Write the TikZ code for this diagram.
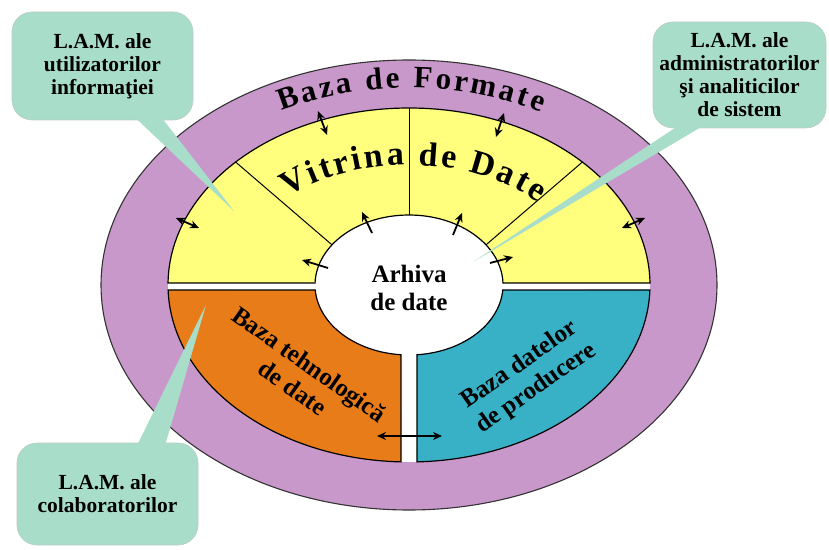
\documentclass[tikz,border=0pt]{standalone}
\usepackage{fontspec}
\setmainfont{Liberation Serif}
\usetikzlibrary{arrows.meta,calc,decorations.text}

\definecolor{formate}{RGB}{201,152,202}
\definecolor{vitrina}{RGB}{255,255,125}
\definecolor{tehno}{RGB}{231,124,24}
\definecolor{productie}{RGB}{56,176,198}
\definecolor{lam}{RGB}{168,221,202}

\newcommand\arcfont{\bfseries\fontsize{31}{34}\selectfont}
\newcommand\vitfont{\bfseries\fontsize{34}{36}\selectfont}
\newcommand\lamfont{\bfseries\fontsize{21.5}{23}\selectfont}
\newcommand\partfont{\bfseries\fontsize{25}{29}\selectfont}
\newcommand\arhfont{\bfseries\fontsize{25}{28}\selectfont}

\tikzset{
  rim/.style={draw=black!80, line width=1.1pt},
  parte/.style={draw=black, line width=1.2pt},
  sep/.style={draw=black, line width=1pt},
  dblarrow/.style={{Stealth[length=9pt,width=8pt]}-{Stealth[length=9pt,width=8pt]}, line width=1.8pt},
  outarrow/.style={-{Stealth[length=9pt,width=8pt]}, line width=1.8pt},
  callout/.style={fill=lam, draw=lam!70!black!50, line width=0.6pt, rounded corners=20pt,
    align=center, font=\lamfont, inner sep=0pt},
  tail/.style={fill=lam}
}

\begin{document}
\begin{tikzpicture}[x=1pt,y=1pt]
\useasboundingbox (0,0) rectangle (829,549);
\fill[white] (0,0) rectangle (829,549);

\coordinate (C) at (409,264);

% inelul exterior
\draw[rim, fill=formate] (C) ellipse [x radius=308pt, y radius=225pt];
\fill[white] (C) ellipse [x radius=241pt, y radius=177pt];

% vitrina de date
\draw[parte, fill=vitrina] ($(C)+(0.65:241pt and 177pt)$)
  arc[start angle=0.65, end angle=179.35, x radius=241pt, y radius=177pt]
  -- ($(C)+(178.36:94pt and 70pt)$)
  arc[start angle=178.36, end angle=1.64, x radius=94pt, y radius=70pt] -- cycle;

% baza tehnologica
\draw[parte, fill=tehno] ($(C)+(181.62:241pt and 177pt)$)
  arc[start angle=181.62, end angle=268.1, x radius=241pt, y radius=177pt]
  -- ($(C)+(265.1:94pt and 70pt)$)
  arc[start angle=265.1, end angle=184.1, x radius=94pt, y radius=70pt] -- cycle;

% baza datelor de producere
\draw[parte, fill=productie] ($(C)+(271.9:241pt and 177pt)$)
  arc[start angle=271.9, end angle=358.38, x radius=241pt, y radius=177pt]
  -- ($(C)+(355.9:94pt and 70pt)$)
  arc[start angle=355.9, end angle=274.9, x radius=94pt, y radius=70pt] -- cycle;

\foreach \u/\v in {136/145, 90/90, 44/35}
  \draw[sep] ($(C)+(\u:241pt and 177pt)$) -- ($(C)+(\v:94pt and 70pt)$);

% texte curbate
\path[decorate, decoration={text along path, text align=fit to path,
    text={|\arcfont|Baza de Formate}}]
  ($(C)+(118:272pt and 197pt)$)
  arc[start angle=118, end angle=61, x radius=272pt, y radius=197pt];
\path[decorate, decoration={text along path, text align=fit to path,
    text={|\vitfont|Vitrina de Date}}]
  ($(C)+(133:178pt and 120pt)$)
  arc[start angle=133, end angle=43.5, x radius=178pt, y radius=120pt];

\node[font=\partfont, rotate=-35, align=center] (tehnologica) at (301,173) {Baza tehnologică\\de date};
\node[font=\partfont, rotate=35, align=center] (producere) at (528,172) {Baza datelor\\de producere};
\node[font=\arhfont, align=center] (arhiva) at (409,261) {Arhiva\\de date};

% sageti
\foreach \a/\b [count=\i] in {{318,438}/{327,414}, {504,436}/{496,412},
    {176,331}/{199,321}, {645,331}/{622,321}, {377,113}/{442,113}} {
  \coordinate (d\i a) at (\a);
  \coordinate (d\i b) at (\b);
  \draw[dblarrow] (d\i a) -- (d\i b);
}
\foreach \a/\b [count=\i] in {{328,281}/{302,289}, {372,316}/{362,337},
    {453,314}/{462,336}, {490,286}/{513,292}} {
  \coordinate (s\i a) at (\a);
  \coordinate (s\i b) at (\b);
  \draw[outarrow] (s\i a) -- (s\i b);
}

% L.A.M.
\node[callout, minimum width=181pt, minimum height=108pt] (lamUtil) at (102.5,483)
  {L.A.M. ale\\utilizatorilor\\informaţiei};
\node[callout, minimum width=173pt, minimum height=106pt] (lamAdmin) at (739.5,474)
  {L.A.M. ale\\administratorilor\\şi analiticilor\\de sistem};
\node[callout, minimum width=181pt, minimum height=102pt] (lamColab) at (107.5,55)
  {L.A.M. ale\\colaboratorilor};

\coordinate (tipUtil) at (234,338);
\coordinate (tipAdmin) at (473,287);
\coordinate (tipColab) at (206,244);

\fill[tail] ($(lamUtil.south)+(27,8)$) -- (tipUtil) -- ($(lamUtil.south)+(55,8)$) -- cycle;
\fill[tail] ($(lamAdmin.south)+(-53,8)$) -- (tipAdmin) -- ($(lamAdmin.south)+(-27,8)$) -- cycle;
\fill[tail] ($(lamColab.north)+(27,-8)$) -- (tipColab) -- ($(lamColab.north)+(56,-8)$) -- cycle;

\end{tikzpicture}
\end{document}
